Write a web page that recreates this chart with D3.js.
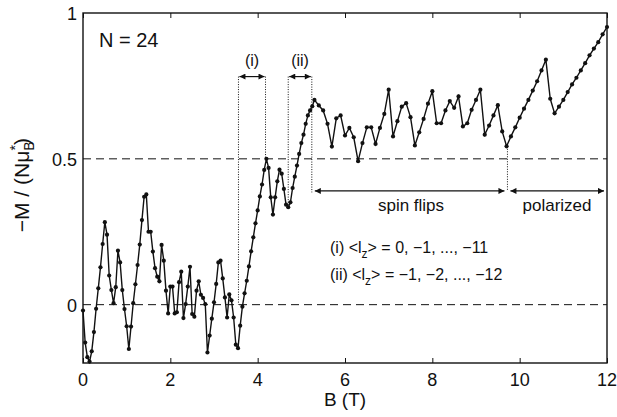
<!DOCTYPE html>
<html>
<head>
<meta charset="utf-8">
<script src="https://cdn.jsdelivr.net/npm/d3@7"></script>
<style>
  body { margin: 0; background: #fff; }
  svg text { font-family: "Liberation Sans", Arial, sans-serif; fill: #111; }
</style>
</head>
<body>
<svg class="graphic" width="617" height="417"></svg>
<script>
// field values (T) and magnetisation -M/(N mu_B*)
const fieldB = [
  0.00, 0.05, 0.10, 0.15, 0.20, 0.25, 0.30, 0.35, 0.40, 0.45,
  0.50, 0.55, 0.60, 0.65, 0.70, 0.75, 0.80, 0.85, 0.90, 0.95,
  1.00, 1.05, 1.10, 1.15, 1.20, 1.25, 1.30, 1.35, 1.40, 1.45,
  1.50, 1.55, 1.60, 1.65, 1.70, 1.75, 1.80, 1.85, 1.90, 1.95,
  2.00, 2.05, 2.10, 2.15, 2.20, 2.25, 2.30, 2.35, 2.40, 2.45,
  2.50, 2.55, 2.60, 2.65, 2.70, 2.75, 2.80, 2.85, 2.90, 2.95,
  3.00, 3.05, 3.10, 3.15, 3.20, 3.25, 3.30, 3.35, 3.40, 3.45,
  3.50, 3.55, 3.60, 3.65, 3.70, 3.75, 3.80, 3.85, 3.90, 3.95,
  4.00, 4.05, 4.10, 4.15, 4.20, 4.25, 4.30, 4.35, 4.40, 4.45,
  4.50, 4.55, 4.60, 4.65, 4.70, 4.75, 4.80, 4.85, 4.90, 4.95,
  5.00, 5.05, 5.10, 5.15, 5.20, 5.25,
  5.3, 5.4, 5.5, 5.6, 5.7, 5.8, 5.9, 6.0, 6.1, 6.2,
  6.3, 6.4, 6.5, 6.6, 6.7, 6.8, 6.9, 7.0, 7.1, 7.2,
  7.3, 7.4, 7.5, 7.6, 7.7, 7.8, 7.9, 8.0, 8.1, 8.2,
  8.3, 8.4, 8.5, 8.6, 8.7, 8.8, 8.9, 9.0, 9.1, 9.2,
  9.3, 9.4, 9.5, 9.6, 9.7, 9.8, 9.9, 10.0, 10.1, 10.2,
  10.3, 10.4, 10.5, 10.6, 10.7, 10.8, 10.9, 11.0, 11.1, 11.2,
  11.3, 11.4, 11.5, 11.6, 11.7, 11.8, 11.9, 12.0
];
const magM = [
  -0.02, -0.13, -0.18, -0.195, -0.16, -0.094, -0.014, 0.056, 0.128, 0.208,
  0.283, 0.24, 0.10, 0.05, 0.005, 0.06, 0.185, 0.145, 0.05, -0.015,
  -0.074, -0.152, -0.075, 0.005, 0.07, 0.136, 0.206, 0.29, 0.37, 0.378,
  0.25, 0.25, 0.182, 0.125, 0.096, 0.08, 0.205, 0.151, 0.048, -0.03,
  0.062, 0.062, -0.03, -0.026, 0.077, 0.113, -0.046, 0.002, 0.062, 0.13,
  -0.032, -0.041, 0.048, 0.08, 0.034, 0.023, 0.002, -0.164, -0.106, -0.048,
  0.008, 0.071, 0.145, 0.151, 0.09, 0.025, -0.044, 0.035, 0.015, -0.044,
  -0.137, -0.149, -0.072, -0.007, 0.039, 0.082, 0.131, 0.183, 0.231, 0.279,
  0.323, 0.371, 0.412, 0.462, 0.50, 0.469, 0.368, 0.309, 0.368, 0.423,
  0.463, 0.449, 0.397, 0.343, 0.334, 0.351, 0.40, 0.439, 0.477, 0.517,
  0.554, 0.583, 0.62, 0.649, 0.666, 0.68,
  0.702, 0.683, 0.666, 0.62, 0.542, 0.639, 0.649, 0.58, 0.606, 0.574,
  0.492, 0.554, 0.608, 0.608, 0.551, 0.606, 0.654, 0.737, 0.577, 0.629,
  0.679, 0.691, 0.643, 0.546, 0.591, 0.637, 0.689, 0.732, 0.622, 0.622,
  0.666, 0.698, 0.675, 0.714, 0.611, 0.622, 0.668, 0.702, 0.737, 0.583,
  0.614, 0.649, 0.684, 0.594, 0.543, 0.577, 0.608, 0.641, 0.672, 0.702,
  0.734, 0.766, 0.803, 0.84, 0.706, 0.656, 0.679, 0.702, 0.729, 0.755,
  0.778, 0.803, 0.828, 0.855, 0.878, 0.90, 0.927, 0.952
];

const xTicks = [0, 2, 4, 6, 8, 10, 12];
const yTicks = [0, 0.5, 1];
const yTickLabels = ["0", "0.5", "1"];
const refLevels = [0, 0.5];

// annotation anchors (data units)
const bracketI = [3.56, 4.18];
const bracketII = [4.70, 5.24];
const bracketLevel = 0.782;
const dropI = [0, 0.5];
const dropII = [0.334, 0.385];
const regionEdges = [5.24, 9.72, 12];
const regionLevel = 0.39;
const regionLabels = ["spin flips", "polarized"];

const MARGIN = { top: 13, right: 10, bottom: 54, left: 83 };
const W = 617, H = 417;

const $svg = d3.select('.graphic');
const innerW = W - MARGIN.left - MARGIN.right;
const innerH = H - MARGIN.top - MARGIN.bottom;

const x = d3.scaleLinear().domain([0, 12]).range([MARGIN.left, MARGIN.left + innerW]);
const y = d3.scaleLinear().domain([-0.2, 1]).range([MARGIN.top + innerH, MARGIN.top]);

// arrowhead marker
const defs = $svg.append('defs');
defs.append('marker')
  .attr('id', 'head')
  .attr('viewBox', '0 0 10 10')
  .attr('refX', 10).attr('refY', 5)
  .attr('markerWidth', 9).attr('markerHeight', 6)
  .attr('markerUnits', 'userSpaceOnUse')
  .attr('orient', 'auto-start-reverse')
  .append('path').attr('d', 'M0,0 L10,5 L0,10 z').attr('fill', '#111');

// dashed reference lines
$svg.selectAll('.ref').data(refLevels).join('line')
  .attr('class', 'ref')
  .attr('x1', x(0)).attr('x2', x(12))
  .attr('y1', d => y(d)).attr('y2', d => y(d))
  .attr('stroke', '#111').attr('stroke-width', 1)
  .attr('stroke-dasharray', '8,5');

// axes with inward ticks (matlab style)
$svg.append('g')
  .attr('transform', `translate(0,${y(-0.2)})`)
  .call(d3.axisTop(x).tickValues(xTicks).tickSize(5).tickFormat(''))
  .call(g => g.select('.domain').remove());
$svg.append('g')
  .attr('transform', `translate(0,${y(1)})`)
  .call(d3.axisBottom(x).tickValues(xTicks).tickSize(5).tickFormat(''))
  .call(g => g.select('.domain').remove());
$svg.selectAll('g .tick line').attr('stroke', '#111');

$svg.selectAll('.xlab').data(xTicks).join('text')
  .attr('class', 'xlab')
  .attr('x', d => x(d)).attr('y', 386)
  .attr('text-anchor', 'middle')
  .attr('font-size', 18)
  .text(d => d);

$svg.selectAll('.ylab').data(yTicks).join('text')
  .attr('class', 'ylab')
  .attr('x', 77).attr('y', d => y(d) + 7)
  .attr('text-anchor', 'end')
  .attr('font-size', 18)
  .text((d, i) => yTickLabels[i]);

// frame
$svg.append('rect')
  .attr('x', x(0)).attr('y', y(1))
  .attr('width', x(12) - x(0)).attr('height', y(-0.2) - y(1))
  .attr('fill', 'none').attr('stroke', '#111').attr('stroke-width', 1.4);

// dotted guide lines
const dotted = [
  [bracketI[0], bracketLevel, dropI[0]],
  [bracketI[1], bracketLevel, dropI[1]],
  [bracketII[0], bracketLevel, dropII[0]],
  [bracketII[1], bracketLevel, dropII[1]],
  [regionEdges[1], 0.543, regionLevel]
];
$svg.selectAll('.guide').data(dotted).join('line')
  .attr('class', 'guide')
  .attr('x1', d => x(d[0])).attr('x2', d => x(d[0]))
  .attr('y1', d => y(d[1])).attr('y2', d => y(d[2]))
  .attr('stroke', '#111').attr('stroke-width', 1)
  .attr('stroke-dasharray', '1,1.5');

// data line + markers
const pts = fieldB.map((b, i) => ({ b: b, m: magM[i] }));
const line = d3.line().x(d => x(d.b)).y(d => y(d.m));
$svg.append('path')
  .datum(pts)
  .attr('d', line)
  .attr('fill', 'none')
  .attr('stroke', '#111')
  .attr('stroke-width', 1.4)
  .attr('stroke-linejoin', 'miter');
$svg.selectAll('.pt').data(pts).join('circle')
  .attr('class', 'pt')
  .attr('cx', d => x(d.b)).attr('cy', d => y(d.m))
  .attr('r', 2.1)
  .attr('fill', '#111');

// double arrows
function dblArrow(a, b, level, pad) {
  $svg.append('line')
    .attr('x1', x(a) + pad).attr('x2', x(b) - pad)
    .attr('y1', y(level)).attr('y2', y(level))
    .attr('stroke', '#111').attr('stroke-width', 1.2)
    .attr('marker-start', 'url(#head)')
    .attr('marker-end', 'url(#head)');
}
dblArrow(bracketI[0], bracketI[1], bracketLevel, 1);
dblArrow(bracketII[0], bracketII[1], bracketLevel, 1);
dblArrow(regionEdges[0], regionEdges[1], regionLevel, 3);
dblArrow(regionEdges[1], regionEdges[2], regionLevel, 3);

$svg.append('text')
  .attr('x', x((bracketI[0] + bracketI[1]) / 2)).attr('y', 66)
  .attr('text-anchor', 'middle').attr('font-size', 16).text('(i)');
$svg.append('text')
  .attr('x', x((bracketII[0] + bracketII[1]) / 2)).attr('y', 66)
  .attr('text-anchor', 'middle').attr('font-size', 16).text('(ii)');

$svg.append('text')
  .attr('x', 411).attr('y', 211)
  .attr('text-anchor', 'middle').attr('font-size', 17).text(regionLabels[0]);
$svg.append('text')
  .attr('x', 557).attr('y', 211)
  .attr('text-anchor', 'middle').attr('font-size', 17).text(regionLabels[1]);

$svg.append('text')
  .attr('x', 99).attr('y', 47)
  .attr('font-size', 20).text('N = 24');

// l_z legend lines
function lzLine(yPos, prefix, rest) {
  const t = $svg.append('text').attr('x', 330).attr('y', yPos).attr('font-size', 16);
  t.append('tspan').text(prefix + ' <l');
  t.append('tspan').attr('dy', 5).attr('font-size', 12).text('z');
  t.append('tspan').attr('dy', -5).text('> = ' + rest);
}
lzLine(253, '(i)', '0, \u22121, ..., \u221211');
lzLine(280, '(ii)', '\u22121, \u22122, ..., \u221212');

// axis titles
$svg.append('text')
  .attr('x', x(6)).attr('y', 406)
  .attr('text-anchor', 'middle').attr('font-size', 19)
  .text('B (T)');

const yt = $svg.append('text')
  .attr('transform', `translate(29,${y(0.41)}) rotate(-90)`)
  .attr('text-anchor', 'middle').attr('font-size', 21);
yt.append('tspan').text('\u2212M / (N\u03bc');
yt.append('tspan').attr('dy', 5).attr('font-size', 14).text('B');
yt.append('tspan').attr('dy', -14).attr('dx', -9).attr('font-size', 14).text('*');
yt.append('tspan').attr('dy', 9).text(')');
</script>
</body>
</html>
